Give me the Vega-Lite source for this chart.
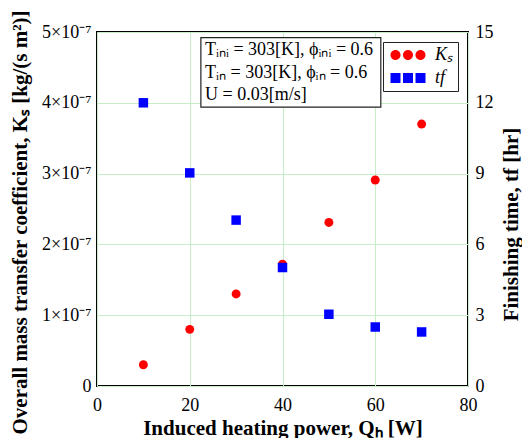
{
  "$schema": "https://vega.github.io/schema/vega-lite/v6.json",
  "width": 371,
  "height": 354,
  "autosize": {"type": "none"},
  "padding": {"left": 97, "top": 32, "right": 54, "bottom": 52},
  "background": "white",
  "config": {
    "font": "Liberation Serif",
    "view": {"stroke": "black", "strokeWidth": 2},
    "axis": {
      "labelFont": "Liberation Serif",
      "labelFontSize": 18,
      "labelColor": "#000",
      "titleFont": "Liberation Serif",
      "titleFontSize": 21,
      "titleFontWeight": "bold",
      "titleColor": "#000",
      "domain": false,
      "ticks": false,
      "gridColor": "#c8eec8",
      "gridWidth": 1,
      "gridOpacity": 1
    }
  },
  "data": {
    "values": [
      {"Q": 10, "Ks": 3.0e-8, "tf": 12.0},
      {"Q": 20, "Ks": 8.0e-8, "tf": 9.03},
      {"Q": 30, "Ks": 1.30e-7, "tf": 7.03},
      {"Q": 40, "Ks": 1.72e-7, "tf": 5.02},
      {"Q": 50, "Ks": 2.31e-7, "tf": 3.04},
      {"Q": 60, "Ks": 2.91e-7, "tf": 2.5},
      {"Q": 70, "Ks": 3.70e-7, "tf": 2.29}
    ]
  },
  "resolve": {"scale": {"y": "independent"}},
  "layer": [
    {
      "layer": [
        {
          "mark": {"type": "point", "filled": true, "shape": "circle", "size": 80, "opacity": 1},
          "encoding": {
            "x": {
              "field": "Q", "type": "quantitative",
              "scale": {"domain": [0, 80], "nice": false},
              "axis": {"values": [0, 20, 40, 60, 80], "title": "Induced heating power, Qₕ [W]", "grid": true, "labelFlush": false, "labelPadding": 10, "titlePadding": 3}
            },
            "y": {
              "field": "Ks", "type": "quantitative",
              "scale": {"domain": [0, 5e-7], "nice": false},
              "axis": {
                "orient": "left",
                "values": [0, 1e-7, 2e-7, 3e-7, 4e-7, 5e-7],
                "labelExpr": "datum.value == 0 ? '0' : format(datum.value*1e7,'d') + '×10⁻⁷'",
                "title": "Overall mass transfer coefficient, Kₛ [kg/(s m²)]",
                "grid": true,
                "labelPadding": 6,
                "titleAngle": 270,
                "titleBaseline": "middle",
                "titleAlign": "center",
                "titleX": -77,
                "titleY": 190
              }
            },
            "color": {
              "datum": "Ks",
              "type": "nominal",
              "scale": {"domain": ["Ks", "tf"], "range": ["#ff0000", "#0000ff"]},
              "legend": {
                "orient": "top-right",
                "offset": 10,
                "title": null,
                "strokeColor": "#222",
                "fillColor": "white",
                "padding": 4,
                "symbolSize": 100,
                "symbolOffset": 12,
                "labelOffset": 18,
                "labelFont": "Liberation Serif",
                "labelFontSize": 18,
                "labelFontStyle": "italic",
                "labelColor": "#000",
                "labelExpr": "datum.value == 'Ks' ? 'Kₛ' : 'tf'",
                "rowPadding": 5,
                "symbolOpacity": 1,
                "encode": {
                  "symbols": {
                    "update": {
                      "shape": {"signal": "datum.value === 'Ks' ? 'M-3.5,0a1,1 0 1,0 2,0a1,1 0 1,0 -2,0M-1,0a1,1 0 1,0 2,0a1,1 0 1,0 -2,0M1.5,0a1,1 0 1,0 2,0a1,1 0 1,0 -2,0' : 'M-3.5,-1h2v2h-2zM-1,-1h2v2h-2zM1.5,-1h2v2h-2z'"}
                    }
                  }
                }
              }
            }
          }
        },
        {
          "data": {"values": [{}]},
          "mark": {"type": "rect", "fill": "white", "stroke": "#222", "strokeWidth": 1.2},
          "encoding": {
            "x": {"datum": 22.4, "type": "quantitative"},
            "x2": {"datum": 61.2},
            "y": {"datum": 4.92e-7, "type": "quantitative"},
            "y2": {"datum": 3.94e-7}
          }
        },
        {
          "data": {"values": [{}]},
          "mark": {"type": "text", "align": "left", "baseline": "top", "fontSize": 18, "lineHeight": 22.5, "font": "Liberation Serif", "color": "#000"},
          "encoding": {
            "x": {"datum": 23.3, "type": "quantitative"},
            "y": {"datum": 4.87e-7, "type": "quantitative"},
            "text": {"value": ["Tᵢₙᵢ = 303[K], ϕᵢₙᵢ = 0.6", "Tᵢₙ = 303[K], ϕᵢₙ = 0.6", "U = 0.03[m/s]"]}
          }
        }
      ]
    },
    {
      "mark": {"type": "point", "filled": true, "shape": "square", "size": 90, "opacity": 1},
      "encoding": {
        "x": {"field": "Q", "type": "quantitative"},
        "y": {
          "field": "tf", "type": "quantitative",
          "scale": {"domain": [0, 15], "nice": false},
          "axis": {
            "orient": "right",
            "values": [0, 3, 6, 9, 12, 15],
            "title": "Finishing time, tf [hr]",
            "titleAngle": 270,
            "titleBaseline": "middle",
            "titleAlign": "center",
            "grid": false,
            "labelPadding": 7,
            "titleX": 43,
            "titleY": 192
          }
        },
        "color": {"datum": "tf", "type": "nominal"}
      }
    }
  ]
}
